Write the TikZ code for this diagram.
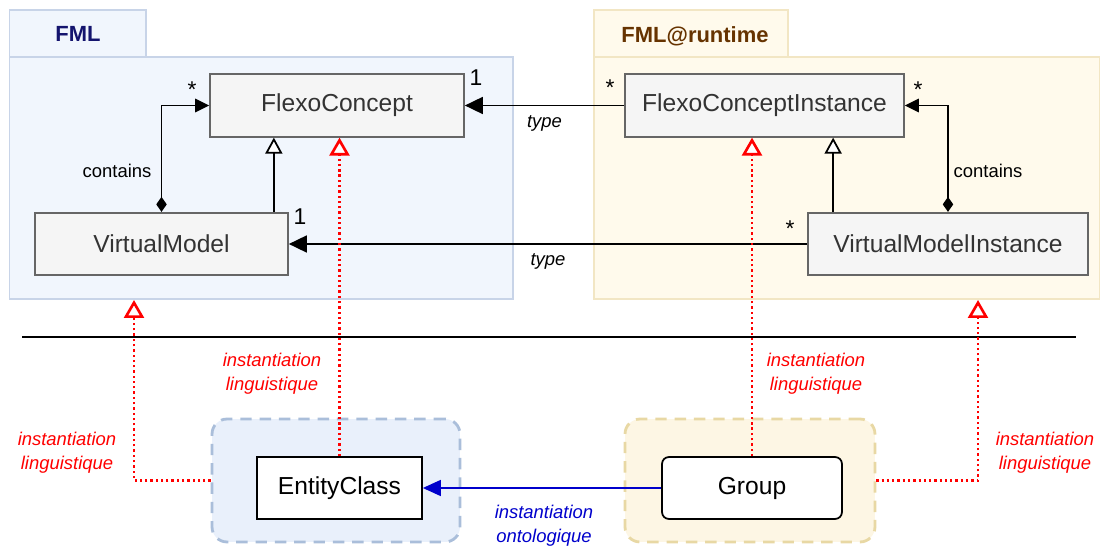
\documentclass[tikz,border=0pt]{standalone}
\usepackage{fontspec}
\setmainfont{Liberation Sans}
\usepackage{xcolor}
\usepackage{tikz}
\usetikzlibrary{arrows.meta, positioning, calc}
\definecolor{fmlfill}{RGB}{241,246,253}
\definecolor{fmldraw}{RGB}{200,212,232}
\definecolor{rtfill}{RGB}{255,250,236}
\definecolor{rtdraw}{RGB}{242,230,196}
\definecolor{ecfill}{RGB}{233,240,251}
\definecolor{ecdraw}{RGB}{170,190,218}
\definecolor{grfill}{RGB}{253,246,228}
\definecolor{grdraw}{RGB}{232,216,164}
\definecolor{clsfill}{RGB}{245,245,245}
\definecolor{clsdraw}{RGB}{102,102,102}
\definecolor{clstext}{RGB}{51,51,51}
\definecolor{fmlnavy}{RGB}{20,20,110}
\definecolor{rtbrown}{RGB}{102,51,0}
\definecolor{linred}{RGB}{255,0,0}
\definecolor{ontblue}{RGB}{0,0,204}
\tikzset{
  pkgbox/.style={rectangle, line width=1pt},
  clsbox/.style={rectangle, draw=clsdraw, fill=clsfill, text=clstext,
    minimum height=1.25cm, font=\fontsize{14}{16}\selectfont, line width=1pt},
  instbox/.style={rectangle, draw=black, fill=white,
    minimum height=1.24cm, font=\fontsize{14}{16}\selectfont, line width=1pt},
  groupbox/.style={rectangle, rounded corners=0.3cm, line width=1.6pt,
    dash pattern=on 6.5pt off 4.5pt, minimum height=2.46cm},
  assoc/.style={-{Triangle[length=0.36cm, width=0.34cm]}, line width=1pt},
  compo/.style={{Diamond[length=0.3cm, width=0.21cm]}-{Triangle[length=0.28cm, width=0.27cm]}, line width=1pt},
  inherit/.style={-{Triangle[open, length=0.32cm, width=0.34cm, fill=white]}, line width=1pt},
  linginst/.style={-{Triangle[open, length=0.36cm, width=0.4cm, fill=white, line width=1.5pt]},
    color=linred, line width=1.3pt, dash pattern=on 1.3pt off 1.7pt},
  ontoinst/.style={-{Triangle[length=0.36cm, width=0.32cm]}, color=ontblue, line width=0.9pt},
  mult/.style={font=\fontsize{13}{15}\selectfont, inner sep=0pt},
  lbl/.style={font=\fontsize{10.5}{12.5}\selectfont, inner sep=0pt},
  typelbl/.style={font=\fontsize{10.5}{12.5}\selectfont\itshape, inner sep=0pt},
  redlbl/.style={font=\fontsize{10.5}{13.6}\selectfont\itshape, color=linred, align=center, inner sep=0pt},
  bluelbl/.style={font=\fontsize{10.5}{13.6}\selectfont\itshape, color=ontblue, align=center, inner sep=0pt}
}
\begin{document}
\begin{tikzpicture}[x=0.02cm, y=-0.02cm]
  \useasboundingbox (0,0) rectangle (1100,547);

  % FML package
  \draw[pkgbox, draw=fmldraw, fill=fmlfill] (9.5,57) rectangle (513,299);
  \draw[pkgbox, draw=fmldraw, fill=fmlfill] (9.5,10) rectangle (146,57);
  \node[font=\fontsize{12.5}{14}\selectfont\bfseries, text=fmlnavy] (fmltitle) at (78,34) {FML};

  % FML@runtime package
  \draw[pkgbox, draw=rtdraw, fill=rtfill] (594,57) rectangle (1099.5,299);
  \draw[pkgbox, draw=rtdraw, fill=rtfill] (594,10) rectangle (788,57);
  \node[font=\fontsize{12.5}{14}\selectfont\bfseries, text=rtbrown] (rttitle) at (695,36) {FML@runtime};

  % separator
  \coordinate (sepl) at (22,337);
  \coordinate (sepr) at (1076,337);
  \draw[line width=1pt] (sepl) -- (sepr);

  % ontological containers
  \node[groupbox, draw=ecdraw, fill=ecfill, minimum width=4.96cm] (ecbox) at (336,480.5) {};
  \node[groupbox, draw=grdraw, fill=grfill, minimum width=5cm] (grbox) at (750,480.5) {};

  % classes
  \node[clsbox, minimum width=5.08cm] (fc) at (337,105.5) {FlexoConcept};
  \node[clsbox, minimum width=5.06cm] (vm) at (161.5,244) {VirtualModel};
  \node[clsbox, minimum width=5.58cm] (fci) at (764.5,105.5) {FlexoConceptInstance};
  \node[clsbox, minimum width=5.6cm] (vmi) at (948,244) {VirtualModelInstance};

  % instances
  \node[instbox, minimum width=3.3cm] (ec) at (339.5,488) {EntityClass};
  \node[instbox, rounded corners=0.14cm, minimum width=3.6cm] (grp) at (752,488) {Group};

  % FML relations
  \draw[compo] (vm.north) |- (fc.west);
  \draw[inherit] ([xshift=-0.3cm]vm.north east) -- ([xshift=-0.3cm]vm.north east |- fc.south);
  \node[lbl] (contl) at (117,171) {contains};
  \node[mult] (m1) at (192,90) {*};
  \node[mult] (m2) at (476,78) {1};
  \node[mult] (m3) at (300,217) {1};

  % FML@runtime relations
  \draw[compo] (vmi.north) |- (fci.east);
  \draw[inherit] ([xshift=0.52cm]vmi.north west) -- ([xshift=0.52cm]vmi.north west |- fci.south);
  \node[lbl] (contr) at (988,171) {contains};
  \node[mult] (m4) at (610,88) {*};
  \node[mult] (m5) at (918,90) {*};
  \node[mult] (m6) at (790,229) {*};

  % type links
  \draw[assoc] (fci) -- (fc) node[typelbl, midway, below=5pt] (type1) {type};
  \draw[assoc] (vmi) -- (vm) node[typelbl, midway, below=5pt] (type2) {type};

  % linguistic instantiation
  \coordinate (vmtip) at (134,300);
  \coordinate (vmitip) at (978,300);
  \draw[linginst] (ec.north) -- (ec.north |- fc.south);
  \draw[linginst] (grp.north) -- (grp.north |- fci.south);
  \draw[linginst] (ecbox.west) -| (vmtip);
  \draw[linginst] (grbox.east) -| (vmitip);
  \node[redlbl] (ling1) at (67,453) {instantiation\\linguistique};
  \node[redlbl] (ling2) at (272,374) {instantiation\\linguistique};
  \node[redlbl] (ling3) at (816,374) {instantiation\\linguistique};
  \node[redlbl] (ling4) at (1045,453) {instantiation\\linguistique};

  % ontological instantiation
  \draw[ontoinst] (grp) -- (ec);
  \node[bluelbl] (onto) at (544,526) {instantiation\\ontologique};
\end{tikzpicture}
\end{document}
